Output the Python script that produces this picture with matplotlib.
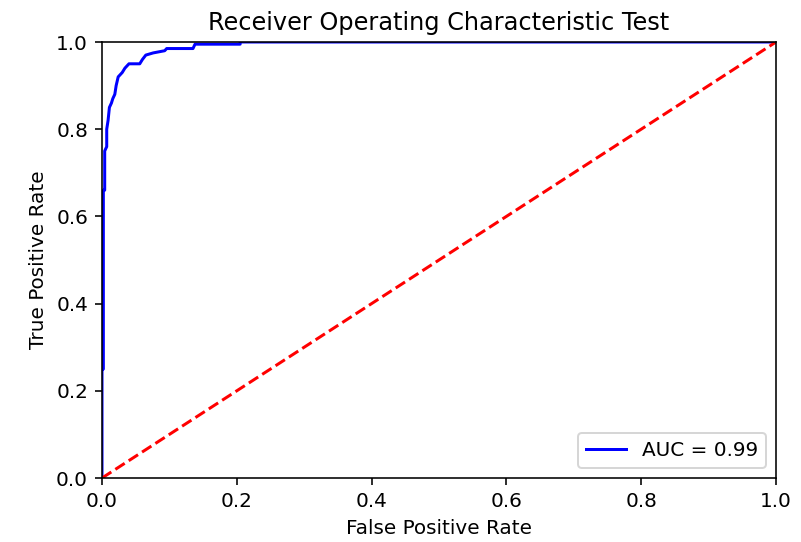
import matplotlib
matplotlib.use("Agg")
import matplotlib.pyplot as plt

fpr = [0.0, 0.0, 0.002, 0.002, 0.004, 0.004, 0.007, 0.007, 0.009, 0.011, 0.014, 0.016,
       0.019, 0.021, 0.024, 0.030, 0.034, 0.040, 0.056, 0.060, 0.065, 0.076, 0.093,
       0.096, 0.135, 0.138, 0.205, 0.205, 1.0]
tpr = [0.0, 0.248, 0.25, 0.66, 0.66, 0.75, 0.76, 0.80, 0.82, 0.85, 0.86, 0.87,
       0.88, 0.90, 0.92, 0.93, 0.94, 0.95, 0.95, 0.96, 0.97, 0.975, 0.98,
       0.985, 0.985, 0.995, 0.995, 1.0, 1.0]
roc_auc = 0.99
diag = [0, 1]
ticks = [0.0, 0.2, 0.4, 0.6, 0.8, 1.0]

fig = plt.figure(figsize=(801/144, 542/144), dpi=144)
ax = fig.add_axes([102/801, 64/542, 674/801, 436/542])
ax.plot(fpr, tpr, 'b', label='AUC = %0.2f' % roc_auc)
ax.plot(diag, diag, 'r--')
ax.legend(loc='lower right')
ax.set_xlim(0, 1)
ax.set_ylim(0, 1)
ax.set_xticks(ticks)
ax.set_yticks(ticks)
ax.set_title('Receiver Operating Characteristic Test')
ax.set_xlabel('False Positive Rate')
ax.set_ylabel('True Positive Rate')
fig.savefig('out.png', dpi=144)
